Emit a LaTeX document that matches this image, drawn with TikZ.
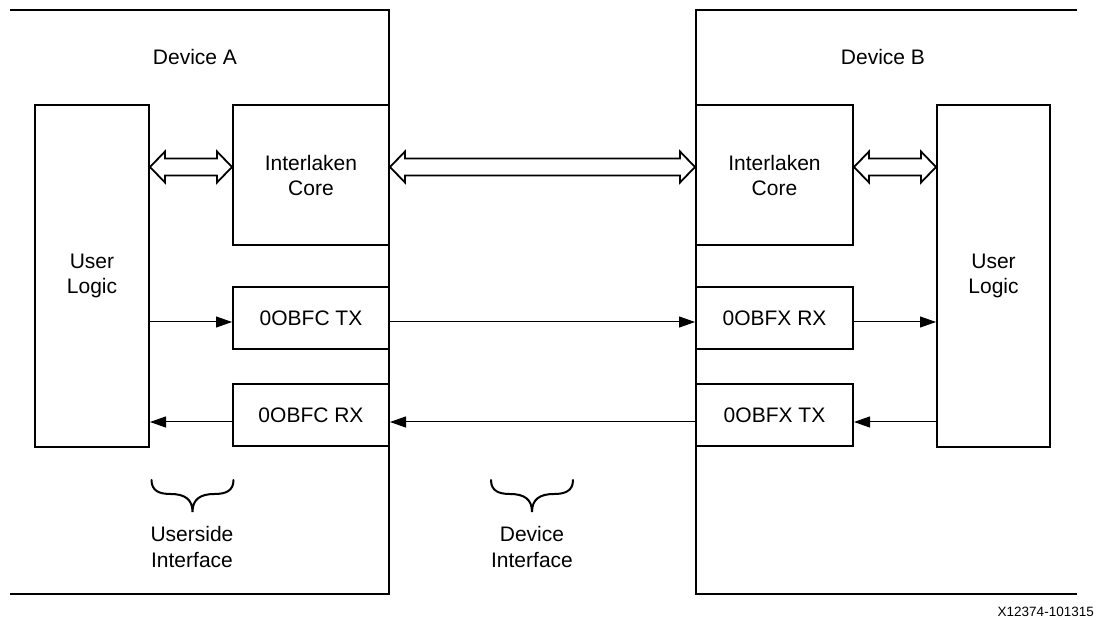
\documentclass[tikz,border=0pt]{standalone}
\usepackage{fontspec}
\setmainfont{Liberation Sans}
\usetikzlibrary{arrows.meta,calc}
\begin{document}
\begin{tikzpicture}[x=1pt,y=-1pt,
  lbl/.style={font=\fontsize{21}{25.5}\selectfont,align=center,inner sep=0pt},
  box/.style={draw,line width=2pt,inner sep=0pt,align=center,font=\fontsize{21}{25}\selectfont},
  devline/.style={line width=2pt,line cap=rect},
  sig/.style={line width=1pt,-{Triangle[length=16pt,width=11pt]}},
  dbl/.style={draw,line width=1.8pt,fill=white,line join=miter},
  bracepath/.style={line width=2pt,line cap=round},
  brace/.pic={\draw[bracepath] (-41,0) .. controls (-41,11) and (-33,14) .. (-22,14) .. controls (-8,14) and (0,19) .. (0,32) .. controls (0,19) and (8,14) .. (22,14) .. controls (33,14) and (41,11) .. (41,0);}
]
\useasboundingbox (0,0) rectangle (1096,620);

% devices
\draw[devline] (11,10) -- (389,10) -- (389,594) -- (11,594);
\draw[devline] (1076,10) -- (696,10) -- (696,594) -- (1076,594);
\node[lbl] (devA) at (195,57) {Device A};
\node[lbl] (devB) at (883,57) {Device B};

% blocks
\node[box,minimum width=114pt,minimum height=342pt] (ulA) at (92,276) {User\\Logic};
\node[box,minimum width=156pt,minimum height=140pt] (icA) at (311,175) {Interlaken\\Core};
\node[box,minimum width=156pt,minimum height=62pt] (txA) at (311,318) {0OBFC TX};
\node[box,minimum width=156pt,minimum height=62pt] (rxA) at (311,415) {0OBFC RX};
\node[box,minimum width=157pt,minimum height=140pt] (icB) at (774.5,175) {Interlaken\\Core};
\node[box,minimum width=157pt,minimum height=62pt] (rxB) at (774.5,318) {0OBFX RX};
\node[box,minimum width=157pt,minimum height=62pt] (txB) at (774.5,415) {0OBFX TX};
\node[box,minimum width=113pt,minimum height=342pt] (ulB) at (993.5,276) {User\\Logic};

\coordinate (ydbl) at (0,167);
\coordinate (ytx) at (0,322);
\coordinate (yrx) at (0,422);

% double arrows
\newcommand\dblarrow[2]{%
  \draw[dbl] (#1) -- ++(15,-15.5) -- ++(0,7) -- ($(#2)+(-15,-8.5)$) -- ++(0,-7) -- (#2)
   -- ++(-15,15.5) -- ++(0,-7) -- ($(#1)+(15,8.5)$) -- ++(0,7) -- cycle;}
\coordinate (d1a) at (ulA.east|-ydbl); \coordinate (d1b) at (icA.west|-ydbl);
\coordinate (d2a) at (icA.east|-ydbl); \coordinate (d2b) at (icB.west|-ydbl);
\coordinate (d3a) at (icB.east|-ydbl); \coordinate (d3b) at (ulB.west|-ydbl);
\dblarrow{d1a}{d1b}
\dblarrow{d2a}{d2b}
\dblarrow{d3a}{d3b}

% signal arrows
\draw[sig] (ulA.east|-ytx) -- (txA.west|-ytx);
\draw[sig] (txA.east|-ytx) -- (rxB.west|-ytx);
\draw[sig] (rxB.east|-ytx) -- (ulB.west|-ytx);
\draw[sig] (ulB.west|-yrx) -- (txB.east|-yrx);
\draw[sig] (txB.west|-yrx) -- (rxA.east|-yrx);
\draw[sig] (rxA.west|-yrx) -- (ulA.east|-yrx);

% braces and labels
\pic at (192.5,480) {brace};
\pic at (532,480) {brace};
\node[lbl] (usi) at (192,547) {Userside\\Interface};
\node[lbl] (dvi) at (532,547) {Device\\Interface};

\node[anchor=base east,inner sep=0pt,font=\fontsize{13.5}{15}\selectfont] (fig) at (1094,616) {X12374-101315};
\end{tikzpicture}
\end{document}
